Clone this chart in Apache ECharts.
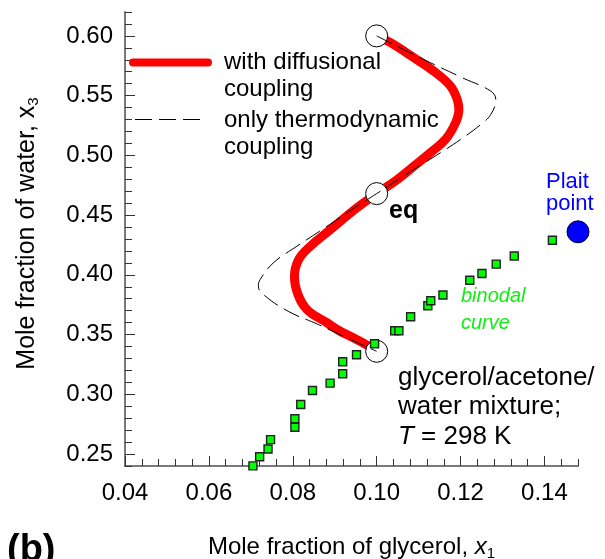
<!DOCTYPE html>
<html>
<head>
<meta charset="utf-8">
<script src="https://cdn.jsdelivr.net/npm/echarts@6/dist/echarts.min.js"></script>
<style>
  html, body { margin: 0; padding: 0; background: #ffffff; }
  #chart { width: 605px; height: 559px; }
</style>
</head>
<body>
<div id="chart"></div>
<script>
// Mole fractions: x1 = glycerol, x3 = water
// Experimental binodal (phase boundary) points
const binodalX = [0.0705, 0.0721, 0.0741, 0.0747, 0.0805, 0.0805, 0.0819, 0.0847,
                  0.0889, 0.0919, 0.0919, 0.0952, 0.0995, 0.1043, 0.1053, 0.1081,
                  0.1122, 0.1129, 0.1158, 0.1222, 0.1251, 0.1285, 0.1328, 0.1419];
const binodalY = [0.2401, 0.2477, 0.2542, 0.2621, 0.2724, 0.2795, 0.2915, 0.3032,
                  0.3094, 0.3172, 0.3272, 0.3331, 0.3423, 0.3532, 0.3532, 0.3649,
                  0.3741, 0.3783, 0.3831, 0.3955, 0.4011, 0.4090, 0.4158, 0.4290];

// Plait point
const plaitX = [0.148];
const plaitY = [0.436];

// Initial compositions and equilibrium state (open circles)
const stateX = [0.100, 0.100, 0.100];
const stateY = [0.600, 0.468, 0.336];

// Composition trajectory with diffusional coupling
const diffusionalX = [0.1000, 0.1033, 0.1089, 0.1136, 0.1176, 0.1192, 0.1196, 0.1188,
                      0.1164, 0.1128, 0.1089, 0.1049, 0.1000, 0.0953, 0.0890, 0.0842,
                      0.0814, 0.0804, 0.0811, 0.0834, 0.0882, 0.0913, 0.0937, 0.0981, 0.1000];
const diffusionalY = [0.6000, 0.5943, 0.5817, 0.5705, 0.5580, 0.5468, 0.5384, 0.5273,
                      0.5133, 0.5022, 0.4910, 0.4798, 0.4680, 0.4561, 0.4379, 0.4240,
                      0.4128, 0.3988, 0.3849, 0.3709, 0.3598, 0.3528, 0.3486, 0.3404, 0.3360];

// Composition trajectory with only thermodynamic coupling
const thermoX = [0.1000, 0.1112, 0.1204, 0.1272, 0.1284, 0.1272, 0.1248, 0.1200,
                 0.1152, 0.1089, 0.1000, 0.0929, 0.0870, 0.0810, 0.0754, 0.0722,
                 0.0718, 0.0730, 0.0789, 0.0861, 0.0937, 0.1000];
const thermoY = [0.6000, 0.5803, 0.5650, 0.5538, 0.5468, 0.5342, 0.5258, 0.5133,
                 0.5022, 0.4882, 0.4680, 0.4519, 0.4379, 0.4240, 0.4101, 0.3960,
                 0.3905, 0.3835, 0.3695, 0.3584, 0.3459, 0.3360];

// Tick labels
const xTickLabels = [0.04, 0.06, 0.08, 0.10, 0.12, 0.14];
const yTickLabels = [0.25, 0.30, 0.35, 0.40, 0.45, 0.50, 0.55, 0.60];

const FONT = "'Liberation Sans', Arial, Helvetica, sans-serif";
const zip = (xs, ys) => xs.map((x, i) => [x, ys[i]]);

const gridRect = { left: 125, top: 12, width: 453, height: 454 };
const axisGray = '#7a7a7a';

const chart = echarts.init(document.getElementById('chart'), null, { renderer: 'canvas' });

chart.setOption({
  animation: false,
  backgroundColor: '#ffffff',
  textStyle: { fontFamily: FONT },
  grid: [
    Object.assign({ containLabel: false, outerBoundsMode: 'none' }, gridRect),
    Object.assign({ containLabel: false, outerBoundsMode: 'none' }, gridRect)
  ],
  xAxis: [
    {
      type: 'value', gridIndex: 0,
      min: 0.04, max: 0.148, interval: 0.004,
      axisLine: { show: true, onZero: false, lineStyle: { color: axisGray, width: 2 } },
      axisTick: { show: true, inside: true, length: 7, lineStyle: { color: '#333', width: 1 } },
      axisLabel: {
        customValues: xTickLabels,
        formatter: v => v.toFixed(2),
        fontSize: 24, color: '#000', margin: 15, fontFamily: FONT
      },
      splitLine: { show: false },
      name: '{t|Mole fraction of glycerol, }{i|x}{s|1}',
      nameLocation: 'middle',
      nameGap: 67,
      nameTextStyle: {
        rich: {
          t: { fontSize: 24, color: '#000', fontFamily: FONT, lineHeight: 28 },
          i: { fontSize: 24, color: '#000', fontFamily: FONT, fontStyle: 'italic', lineHeight: 28 },
          s: { fontSize: 15, color: '#000', fontFamily: FONT, lineHeight: 15, verticalAlign: 'bottom' }
        }
      }
    },
    {
      type: 'value', gridIndex: 1,
      min: 0.04, max: 0.148, interval: 0.02,
      axisLine: { show: false },
      axisTick: { show: true, inside: true, length: 10, customValues: xTickLabels,
                  lineStyle: { color: '#333', width: 1 } },
      axisLabel: { show: false },
      splitLine: { show: false }
    }
  ],
  yAxis: [
    {
      type: 'value', gridIndex: 0,
      min: 0.24, max: 0.62, interval: 0.01,
      axisLine: { show: true, onZero: false, lineStyle: { color: axisGray, width: 2 } },
      axisTick: { show: true, inside: true, length: 7, lineStyle: { color: '#333', width: 1 } },
      axisLabel: {
        customValues: yTickLabels,
        formatter: v => v.toFixed(2),
        fontSize: 24, color: '#000', margin: 12, fontFamily: FONT
      },
      splitLine: { show: false },
      name: '{t|Mole fraction of water, }{i|x}{s|3}',
      nameLocation: 'middle',
      nameGap: 84,
      nameTextStyle: {
        padding: [0, 0, 0, 11],
        rich: {
          t: { fontSize: 25, color: '#000', fontFamily: FONT, lineHeight: 28 },
          i: { fontSize: 25, color: '#000', fontFamily: FONT, lineHeight: 28 },
          s: { fontSize: 15, color: '#000', fontFamily: FONT, lineHeight: 15, verticalAlign: 'bottom' }
        }
      }
    },
    {
      type: 'value', gridIndex: 1,
      min: 0.24, max: 0.62, interval: 0.05,
      axisLine: { show: false },
      axisTick: { show: true, inside: true, length: 10, customValues: yTickLabels,
                  lineStyle: { color: '#333', width: 1 } },
      axisLabel: { show: false },
      splitLine: { show: false }
    }
  ],
  series: [
    {
      name: 'with diffusional coupling',
      type: 'line', xAxisIndex: 0, yAxisIndex: 0,
      data: zip(diffusionalX, diffusionalY),
      smooth: 0.4, showSymbol: false, symbol: 'none',
      lineStyle: { color: '#ff0000', width: 9, cap: 'round', join: 'round' },
      z: 2, silent: true
    },
    {
      name: 'states',
      type: 'scatter', xAxisIndex: 0, yAxisIndex: 0,
      data: zip(stateX, stateY),
      symbol: 'circle', symbolSize: 22,
      itemStyle: { color: '#ffffff', borderColor: '#000000', borderWidth: 1, opacity: 1 },
      z: 3, silent: true
    },
    {
      name: 'only thermodynamic coupling',
      type: 'line', xAxisIndex: 0, yAxisIndex: 0,
      data: zip(thermoX, thermoY),
      smooth: 0.4, showSymbol: false, symbol: 'none',
      lineStyle: { color: '#000000', width: 1, type: [17, 7] },
      z: 4, silent: true
    },
    {
      name: 'binodal curve',
      type: 'scatter', xAxisIndex: 0, yAxisIndex: 0,
      data: zip(binodalX, binodalY),
      symbol: 'rect', symbolSize: 8,
      itemStyle: { color: '#00ff00', borderColor: '#222222', borderWidth: 1.4, opacity: 1 },
      z: 5, silent: true
    },
    {
      name: 'Plait point',
      type: 'scatter', xAxisIndex: 0, yAxisIndex: 0,
      data: zip(plaitX, plaitY),
      symbol: 'circle', symbolSize: 22, clip: false,
      itemStyle: { color: '#0000ff', borderColor: '#000033', borderWidth: 1, opacity: 1 },
      z: 5, silent: true
    }
  ],
  graphic: [
    // legend
    { type: 'line', shape: { x1: 133, y1: 62.5, x2: 208, y2: 62.5 },
      style: { stroke: '#ff0000', lineWidth: 8, lineCap: 'round' }, z: 10 },
    { type: 'text', x: 224, y: 49,
      style: { text: 'with diffusional\ncoupling', font: '24px ' + FONT, fill: '#000',
               lineHeight: 27, align: 'left', verticalAlign: 'top' }, z: 10 },
    { type: 'line', shape: { x1: 135, y1: 119.5, x2: 201, y2: 119.5 },
      style: { stroke: '#000', lineWidth: 1, lineDash: [17, 7] }, z: 10 },
    { type: 'text', x: 224, y: 107,
      style: { text: 'only thermodynamic\ncoupling', font: '24px ' + FONT, fill: '#000',
               lineHeight: 27, align: 'left', verticalAlign: 'top' }, z: 10 },
    // annotations
    { type: 'text', x: 389, y: 211.5,
      style: { text: 'eq', font: 'bold 25px ' + FONT, fill: '#000',
               align: 'left', verticalAlign: 'middle' }, z: 10 },
    { type: 'text', x: 546, y: 171,
      style: { text: 'Plait\npoint', font: '22px ' + FONT, fill: '#0000ff',
               lineHeight: 22, align: 'left', verticalAlign: 'top' }, z: 10 },
    { type: 'text', x: 461, y: 283,
      style: { text: 'binodal\ncurve', font: 'italic 20px ' + FONT, fill: '#11ee11',
               lineHeight: 27, align: 'left', verticalAlign: 'top' }, z: 10 },
    { type: 'text', x: 398, y: 363,
      style: {
        text: '{n|glycerol/acetone/}\n{n|water mixture;}\n{i|T}{n| = 298 K}',
        align: 'left', verticalAlign: 'top',
        rich: {
          n: { font: '26px ' + FONT, fill: '#000', lineHeight: 29.5 },
          i: { font: 'italic 26px ' + FONT, fill: '#000', lineHeight: 29.5 }
        }
      }, z: 10 },
    { type: 'text', x: 7, y: 550.5,
      style: { text: '(b)', font: 'bold 38px ' + FONT, fill: '#000',
               align: 'left', verticalAlign: 'middle' }, z: 10 }
  ]
});
</script>
</body>
</html>
